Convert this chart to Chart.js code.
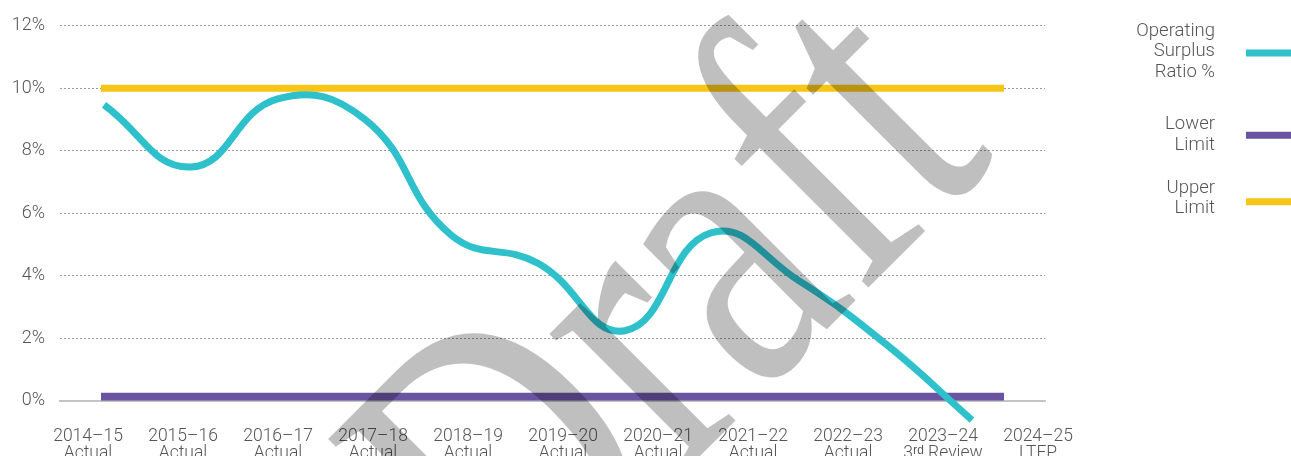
<!DOCTYPE html>
<html>
<head>
<meta charset="utf-8">
<script src="https://cdn.jsdelivr.net/npm/chart.js@4.4.1/dist/chart.umd.min.js"></script>
<style>
  html, body { margin: 0; padding: 0; background: #fff; overflow: hidden; }
  #wrap { position: relative; width: 1291px; height: 456px; }
</style>
</head>
<body>
<div id="wrap"><canvas id="ratio_canvas"></canvas></div>
<script>
// category labels (two lines each)
const yearLabels = ['2014–15', '2015–16', '2016–17', '2017–18', '2018–19', '2019–20',
                    '2020–21', '2021–22', '2022–23', '2023–24', '2024–25'];
const yearNotes = ['Actual', 'Actual', 'Actual', 'Actual', 'Actual', 'Actual',
                   'Actual', 'Actual', 'Actual', '3ʳᵈ Review', 'LTFP'];

// series, in %
const ratioValues = [9.47, 7.48, 9.66, 9.02, 5.3, 4.4, 2.24, 5.38, 3.85, 1.83, -0.62];
const lowerLimit  = [0.13, 0.13, 0.13, 0.13, 0.13, 0.13, 0.13, 0.13, 0.13, 0.13, 0.13];
const upperLimit  = [10, 10, 10, 10, 10, 10, 10, 10, 10, 10, 10];

const seriesNames = [['Operating', 'Surplus', 'Ratio %'], ['Lower', 'Limit'], ['Upper', 'Limit']];
const yTicks = [0, 2, 4, 6, 8, 10, 12];

const textColor = '#555555';
const fontFamily = 'Roboto, "Liberation Sans", Arial, sans-serif';

const toPoints = (arr) => arr.map((v, i) => ({ x: i, y: v }));

// legend on the right: text right aligned, swatch after it
const sideLegend = {
  id: 'sideLegend',
  afterDraw(chart, args, opts) {
    const ctx = chart.ctx;
    ctx.save();
    ctx.font = '300 18.5px ' + fontFamily;
    ctx.fillStyle = textColor;
    ctx.textAlign = 'right';
    ctx.textBaseline = 'middle';
    chart.data.datasets.forEach((ds, i) => {
      const top = opts.groupTops[i];
      const lines = seriesNames[i];
      lines.forEach((t, k) => ctx.fillText(t, opts.textRight, top + k * opts.lineHeight));
      const mid = top + (lines.length - 1) * opts.lineHeight / 2 + opts.swatchShift[i];
      ctx.fillStyle = ds.borderColor;
      ctx.fillRect(opts.swatchLeft, mid - 3.5, opts.swatchWidth, 7);
      ctx.fillStyle = textColor;
    });
    ctx.restore();
  }
};

// "Draft" stamp over everything
const draftStamp = {
  id: 'draftStamp',
  afterDraw(chart, args, opts) {
    const ctx = chart.ctx;
    ctx.save();
    ctx.translate(opts.x, opts.y);
    ctx.rotate(opts.angle * Math.PI / 180);
    ctx.scale(opts.squeeze, 1);
    ctx.font = opts.size + 'px "Liberation Serif", "DejaVu Serif", serif';
    ctx.fillStyle = 'rgba(0,0,0,0.25)';
    ctx.textAlign = 'left';
    ctx.textBaseline = 'alphabetic';
    ctx.fillText('Draft', 0, 0);
    ctx.restore();
  }
};

const ctx = document.getElementById('ratio_canvas');
const ratioChart = new Chart(ctx, {
  type: 'line',
  data: {
    datasets: [{
      label: 'Operating Surplus Ratio %',
      data: toPoints(ratioValues),
      xAxisID: 'xRatio',
      borderColor: '#2ec0cb',
      borderWidth: 7,
      tension: 0.45,
      pointRadius: 0,
      clip: false
    }, {
      label: 'Lower Limit',
      data: toPoints(lowerLimit),
      xAxisID: 'xLimit',
      borderColor: '#6a53a1',
      borderWidth: 8,
      pointRadius: 0
    }, {
      label: 'Upper Limit',
      data: toPoints(upperLimit),
      xAxisID: 'xLimit',
      borderColor: '#f7c516',
      borderWidth: 7,
      pointRadius: 0
    }]
  },
  options: {
    responsive: true,
    maintainAspectRatio: false,
    animation: false,
    events: [],
    layout: { padding: { top: 25, right: 246, left: 0, bottom: 0 } },
    scales: {
      x: {
        type: 'linear',
        position: 'bottom',
        min: -0.295,
        max: 10.073,
        afterBuildTicks: (s) => { s.ticks = yearLabels.map((_, i) => ({ value: i })); },
        afterFit: (s) => { s.height = 55.3; },
        grid: { display: false, drawTicks: false },
        border: { display: true, color: '#c4c4c4', width: 2 },
        ticks: {
          autoSkip: false,
          maxRotation: 0,
          padding: 27,
          color: textColor,
          font: { family: fontFamily, size: 17.5, weight: 300, lineHeight: 1.0 },
          callback: (v) => [yearLabels[v], yearNotes[v]]
        }
      },
      xRatio: { type: 'linear', display: false, min: -0.507, max: 10.841 },
      xLimit: { type: 'linear', display: false, min: -0.454, max: 10.454 },
      y: {
        min: 0,
        max: 12,
        afterFit: (s) => { s.width = 60; },
        afterBuildTicks: (s) => { s.ticks = yTicks.map(v => ({ value: v })); },
        grid: {
          drawTicks: false,
          color: (c) => c.tick && c.tick.value === 0 ? 'rgba(0,0,0,0)' : '#9a9a9a',
          lineWidth: 1
        },
        border: { display: false, dash: [2, 2] },
        ticks: {
          padding: 15,
          color: textColor,
          font: { family: fontFamily, size: 18, weight: 300 },
          callback: (v) => v + '%'
        }
      }
    },
    plugins: {
      legend: { display: false },
      tooltip: { enabled: false },
      sideLegend: {
        textRight: 1215,
        lineHeight: 20.5,
        groupTops: [31, 124.5, 188],
        swatchShift: [1.5, 0.5, 3.5],
        swatchLeft: 1246,
        swatchWidth: 45
      },
      draftStamp: { x: 516, y: 640, angle: -45, size: 420, squeeze: 0.77 }
    }
  },
  plugins: [sideLegend, draftStamp]
});
</script>
</body>
</html>
